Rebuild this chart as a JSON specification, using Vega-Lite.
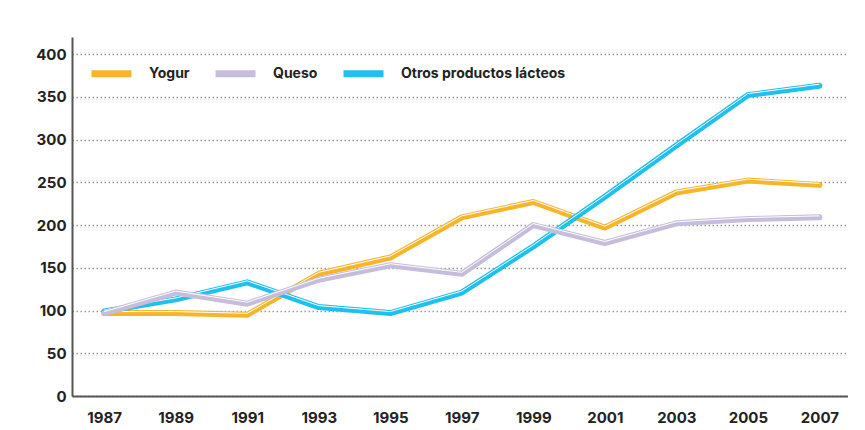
{
  "$schema": "https://vega.github.io/schema/vega-lite/v6.json",
  "width": 776,
  "height": 359,
  "padding": {"left": 35, "top": 37, "right": 0, "bottom": 0},
  "background": "white",
  "config": {
    "view": {"stroke": null},
    "font": "Inter",
    "axis": {"labelFont": "Inter", "labelFontWeight": "bold", "labelFontSize": 15, "labelColor": "#222222", "ticks": false, "domainColor": "#555555", "domainWidth": 2, "title": null}
  },
  "data": {"values": [
    {"year": 1987, "serie": "Yogur", "v": 97},
    {"year": 1989, "serie": "Yogur", "v": 97},
    {"year": 1991, "serie": "Yogur", "v": 95},
    {"year": 1993, "serie": "Yogur", "v": 143},
    {"year": 1995, "serie": "Yogur", "v": 162},
    {"year": 1997, "serie": "Yogur", "v": 209},
    {"year": 1999, "serie": "Yogur", "v": 227},
    {"year": 2001, "serie": "Yogur", "v": 197},
    {"year": 2003, "serie": "Yogur", "v": 238},
    {"year": 2005, "serie": "Yogur", "v": 252},
    {"year": 2007, "serie": "Yogur", "v": 247},
    {"year": 1987, "serie": "Queso", "v": 97},
    {"year": 1989, "serie": "Queso", "v": 121},
    {"year": 1991, "serie": "Queso", "v": 108},
    {"year": 1993, "serie": "Queso", "v": 136},
    {"year": 1995, "serie": "Queso", "v": 153},
    {"year": 1997, "serie": "Queso", "v": 143},
    {"year": 1999, "serie": "Queso", "v": 200},
    {"year": 2001, "serie": "Queso", "v": 179},
    {"year": 2003, "serie": "Queso", "v": 202},
    {"year": 2005, "serie": "Queso", "v": 207},
    {"year": 2007, "serie": "Queso", "v": 209},
    {"year": 1987, "serie": "Otros productos lácteos", "v": 99},
    {"year": 1989, "serie": "Otros productos lácteos", "v": 113},
    {"year": 1991, "serie": "Otros productos lácteos", "v": 133},
    {"year": 1993, "serie": "Otros productos lácteos", "v": 104},
    {"year": 1995, "serie": "Otros productos lácteos", "v": 97},
    {"year": 1997, "serie": "Otros productos lácteos", "v": 121},
    {"year": 1999, "serie": "Otros productos lácteos", "v": 175},
    {"year": 2001, "serie": "Otros productos lácteos", "v": 233},
    {"year": 2003, "serie": "Otros productos lácteos", "v": 293},
    {"year": 2005, "serie": "Otros productos lácteos", "v": 352},
    {"year": 2007, "serie": "Otros productos lácteos", "v": 363}
  ]},
  "encoding": {
    "x": {"field": "year", "type": "quantitative", "scale": {"domain": [1986.1, 2007.8], "nice": false, "zero": false},
          "axis": {"values": [1987, 1989, 1991, 1993, 1995, 1997, 1999, 2001, 2003, 2005, 2007], "format": "d", "grid": false, "labelPadding": 14}},
    "y": {"field": "v", "type": "quantitative", "scale": {"domain": [0, 420], "nice": false},
          "axis": {"values": [0, 50, 100, 150, 200, 250, 300, 350, 400], "grid": true, "gridColor": "#9a9a9a", "gridDash": [1.5, 2.5], "gridWidth": 1.5, "labelPadding": 6}}
  },
  "layer": [
    {"transform": [{"filter": "datum.serie === 'Yogur'"}],
     "mark": {"type": "line", "strokeWidth": 6, "strokeCap": "round", "strokeJoin": "round"},
     "encoding": {"color": {"field": "serie", "type": "nominal",
        "scale": {"domain": ["Yogur", "Queso", "Otros productos lácteos"], "range": ["#F7B52C", "#C6BDDD", "#1FC0EE"]},
        "legend": {"title": null, "orient": "none", "legendX": 16, "legendY": 13, "direction": "horizontal", "symbolType": "stroke", "symbolSize": 1600, "symbolStrokeWidth": 7, "labelFont": "Inter", "labelFontWeight": "bold", "labelFontSize": 14, "labelColor": "#222222", "labelOffset": 14, "labelLimit": 300, "columnPadding": 11}}}},
    {"transform": [{"filter": "datum.serie === 'Yogur'"}],
     "mark": {"type": "line", "strokeWidth": 1, "color": "white", "yOffset": -1.5, "strokeJoin": "round"}},
    {"transform": [{"filter": "datum.serie === 'Otros productos lácteos'"}],
     "mark": {"type": "line", "strokeWidth": 6, "strokeCap": "round", "strokeJoin": "round"},
     "encoding": {"color": {"field": "serie", "type": "nominal"}}},
    {"transform": [{"filter": "datum.serie === 'Otros productos lácteos'"}],
     "mark": {"type": "line", "strokeWidth": 1, "color": "white", "yOffset": -1.5, "strokeJoin": "round"}},
    {"transform": [{"filter": "datum.serie === 'Queso'"}],
     "mark": {"type": "line", "strokeWidth": 6, "strokeCap": "round", "strokeJoin": "round"},
     "encoding": {"color": {"field": "serie", "type": "nominal"}}},
    {"transform": [{"filter": "datum.serie === 'Queso'"}],
     "mark": {"type": "line", "strokeWidth": 1, "color": "white", "yOffset": -1.5, "strokeJoin": "round"}}
  ]
}
